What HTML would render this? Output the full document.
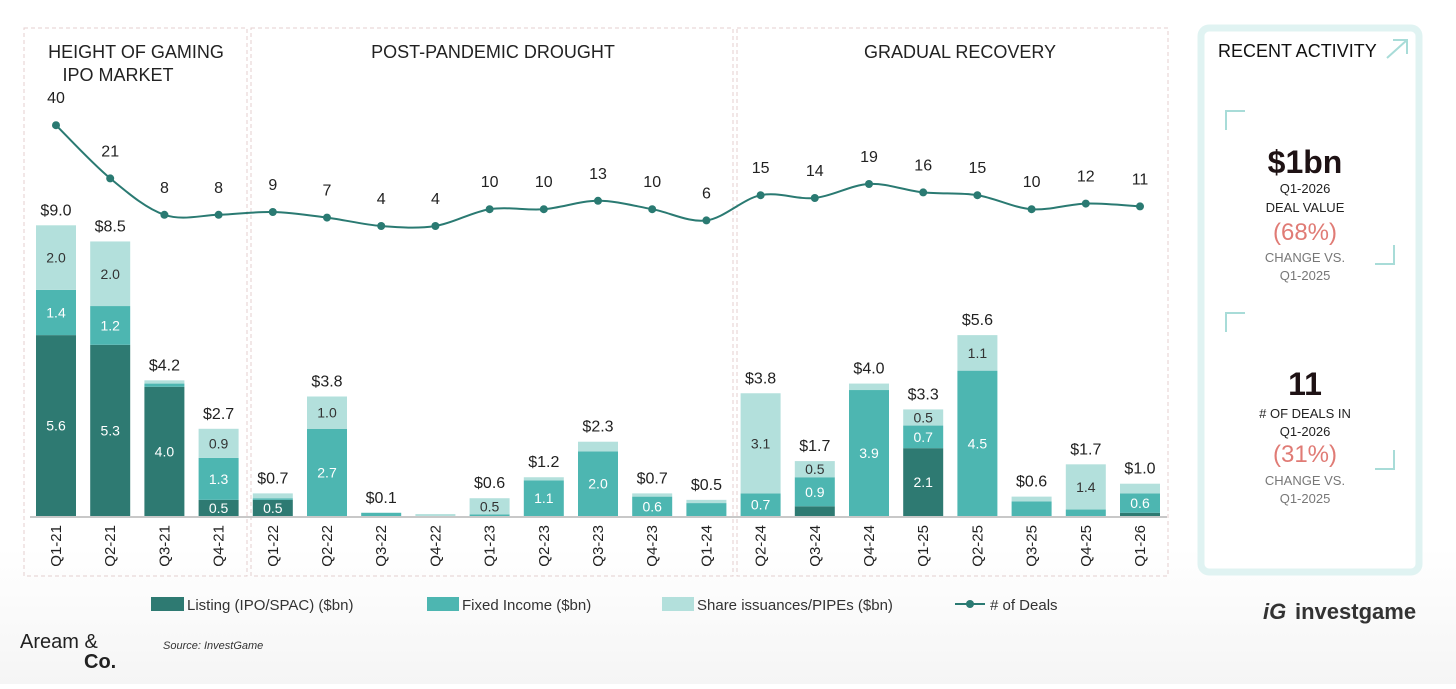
<!DOCTYPE html>
<html><head><meta charset="utf-8">
<style>
body{margin:0;background:#fff;width:1456px;height:684px;overflow:hidden;font-family:"Liberation Sans",sans-serif;}
svg text{font-family:"Liberation Sans",sans-serif;}
</style></head>
<body>
<svg id="c" width="1456" height="684" xmlns="http://www.w3.org/2000/svg">
<defs><linearGradient id="bg" x1="0" y1="0" x2="0" y2="1"><stop offset="0.8" stop-color="#ffffff"/><stop offset="1" stop-color="#f5f5f5"/></linearGradient></defs>
<rect width="1456" height="684" fill="url(#bg)"/>
<g fill="none" stroke="#e4cfcf" stroke-dasharray="4,3">
<rect x="24" y="28" width="223" height="548"/>
<rect x="251" y="28" width="482" height="548"/>
<rect x="737" y="28" width="431" height="548"/>
</g>
<g font-size="18" fill="#222" text-anchor="middle">
<text x="136" y="58">HEIGHT OF GAMING</text>
<text x="118" y="81">IPO MARKET</text>
<text x="493" y="58">POST-PANDEMIC DROUGHT</text>
<text x="960" y="58">GRADUAL RECOVERY</text>
</g>
<g id="bars"></g>
<line x1="30" y1="517" x2="1167" y2="517" stroke="#c8c8c8" stroke-width="2"/>
<g id="line"></g>
<g id="xlabels"></g>
<g font-size="15" fill="#333">
<g><rect x="151" y="597" width="33" height="14" fill="#2e7a72"/><text x="187" y="610">Listing (IPO/SPAC) ($bn)</text></g>
<g><rect x="427" y="597" width="32" height="14" fill="#4db6b1"/><text x="462" y="610">Fixed Income ($bn)</text></g>
<g><rect x="662" y="597" width="32" height="14" fill="#b3e0dc"/><text x="697" y="610">Share issuances/PIPEs ($bn)</text></g>
<g><line x1="955" y1="604" x2="985" y2="604" stroke="#2a7a72" stroke-width="2"/><circle cx="970" cy="604" r="4" fill="#2a7a72"/><text x="990" y="610"># of Deals</text></g>
</g>
<text x="20" y="648" font-family="Liberation Serif" font-size="20" fill="#222">Aream &amp;</text>
<text x="84" y="668" font-family="Liberation Serif" font-size="20" font-weight="bold" fill="#222">Co.</text>
<text x="163" y="649" font-size="11" font-style="italic" fill="#333">Source: InvestGame</text>
<g>
<text x="1263" y="619" font-size="22" font-weight="bold" font-style="italic" fill="#333">iG</text>
<text x="1295" y="619" font-size="22" font-weight="bold" fill="#333">investgame</text>
</g>
<g>
<rect x="1201" y="28" width="218" height="544" rx="8" fill="#fff" stroke="#e0f3f2" stroke-width="7"/>
<text x="1218" y="57" font-size="18" fill="#111">RECENT ACTIVITY</text>
<path d="M1387 58 L1407 40 M1393 40 L1407 40 L1407 54" stroke="#a8dcd8" stroke-width="2" fill="none"/>
<path d="M1226 130 V111 H1245" stroke="#a8dcd8" stroke-width="2" fill="none"/>
<path d="M1394 245 V264 H1375" stroke="#a8dcd8" stroke-width="2" fill="none"/>
<path d="M1226 332 V313 H1245" stroke="#a8dcd8" stroke-width="2" fill="none"/>
<path d="M1394 450 V469 H1375" stroke="#a8dcd8" stroke-width="2" fill="none"/>
<g text-anchor="middle">
<text x="1305" y="173" font-family="Liberation Serif" font-size="32" font-weight="bold" fill="#1e1214">$1bn</text>
<text x="1305" y="193" font-size="13" fill="#222">Q1-2026</text>
<text x="1305" y="212" font-size="13" fill="#222">DEAL VALUE</text>
<text x="1305" y="240" font-family="Liberation Serif" font-size="24" fill="#e07b75">(68%)</text>
<text x="1305" y="262" font-size="13" fill="#777">CHANGE VS.</text>
<text x="1305" y="280" font-size="13" fill="#777">Q1-2025</text>
<text x="1305" y="395" font-family="Liberation Serif" font-size="32" font-weight="bold" fill="#1e1214">11</text>
<text x="1305" y="418" font-size="13" fill="#222"># OF DEALS IN</text>
<text x="1305" y="436" font-size="13" fill="#222">Q1-2026</text>
<text x="1305" y="462" font-family="Liberation Serif" font-size="24" fill="#e07b75">(31%)</text>
<text x="1305" y="485" font-size="13" fill="#777">CHANGE VS.</text>
<text x="1305" y="503" font-size="13" fill="#777">Q1-2025</text>
</g>
</g>
</svg>
<script>
const categories=["Q1-21","Q2-21","Q3-21","Q4-21","Q1-22","Q2-22","Q3-22","Q4-22","Q1-23","Q2-23","Q3-23","Q4-23","Q1-24","Q2-24","Q3-24","Q4-24","Q1-25","Q2-25","Q3-25","Q4-25","Q1-26"];
const listing=[5.6,5.3,4.0,0.5,0.5,0,0,0,0,0,0,0,0,0,0.3,0,2.1,0,0,0,0.1];
const fixedIncome=[1.4,1.2,0.1,1.3,0.05,2.7,0.1,0,0.05,1.1,2.0,0.6,0.4,0.7,0.9,3.9,0.7,4.5,0.45,0.2,0.6];
const shareIssuances=[2.0,2.0,0.1,0.9,0.15,1.0,0,0.06,0.5,0.1,0.3,0.1,0.1,3.1,0.5,0.2,0.5,1.1,0.15,1.4,0.3];
const totalLabels=["$9.0","$8.5","$4.2","$2.7","$0.7","$3.8","$0.1",null,"$0.6","$1.2","$2.3","$0.7","$0.5","$3.8","$1.7","$4.0","$3.3","$5.6","$0.6","$1.7","$1.0"];
const deals=[40,21,8,8,9,7,4,4,10,10,13,10,6,15,14,19,16,15,10,12,11];
</script>
<script>
const NS="http://www.w3.org/2000/svg";
function mk(t,a,p){const e=document.createElementNS(NS,t);for(const k in a)e.setAttribute(k,a[k]);p.appendChild(e);return e;}
const x0=56,x1=1140;
function xs(i){return x0+i*(x1-x0)/(categories.length-1);}
const base=516;
function ys(v){return v*32.3;}
function yd(d){return 237.2-2.8*d;}
const bw=40;
const bars=document.getElementById('bars');
const cols=["#2e7a72","#4db6b1","#b3e0dc"];
const series=[listing,fixedIncome,shareIssuances];
const names=["listing","fixed-income","share-issuances"];
categories.forEach((c,i)=>{
  let y=base;
  series.forEach((s,k)=>{
    const v=s[i]; if(!v) return;
    const h=ys(v);
    const r=mk('rect',{x:xs(i)-bw/2,y:y-h,width:bw,height:h,fill:cols[k]},bars);
    
    
    if(v>=0.48){
      const t=mk('text',{x:xs(i),y:Math.min(y-h/2+5,base-1),'text-anchor':'middle','font-size':14,fill:k==2?'#333':'#fff'},bars);
      t.textContent=v.toFixed(1);
      
      
    }
    y-=h;
  });
  if(totalLabels[i]){
    const t=mk('text',{x:xs(i),y:y-10,'text-anchor':'middle','font-size':16,fill:'#222'},bars);
    t.textContent=totalLabels[i];
    
    
  }
});
const lg=document.getElementById('line');
const pts=deals.map((v,i)=>[xs(i),yd(v)]);
let d="M"+pts[0][0]+" "+pts[0][1];
for(let i=1;i<pts.length;i++){
  const p0=pts[Math.max(i-2,0)],p1=pts[i-1],p2=pts[i],p3=pts[Math.min(i+1,pts.length-1)];
  const c1=[p1[0]+(p2[0]-p0[0])/6,p1[1]+(p2[1]-p0[1])/6],c2=[p2[0]-(p3[0]-p1[0])/6,p2[1]-(p3[1]-p1[1])/6];
  d+=` C${c1[0]} ${c1[1]} ${c2[0]} ${c2[1]} ${p2[0]} ${p2[1]}`;
}
const path=mk('path',{d:d,fill:'none',stroke:'#2a7a72','stroke-width':2},lg);


pts.forEach((p,i)=>{
  const c=mk('circle',{cx:p[0],cy:p[1],r:4,fill:'#2a7a72'},lg);
  
  
  const t=mk('text',{x:p[0],y:p[1]-22,'text-anchor':'middle','font-size':16,fill:'#222'},lg);
  t.textContent=deals[i];
  
  
});
const xl=document.getElementById('xlabels');
categories.forEach((c,i)=>{
  const t=mk('text',{x:0,y:0,'text-anchor':'end','font-size':15,fill:'#222',transform:`translate(${xs(i)+5},525) rotate(-90)`},xl);
  t.textContent=c;
  
  
});
</script>
</body></html>
